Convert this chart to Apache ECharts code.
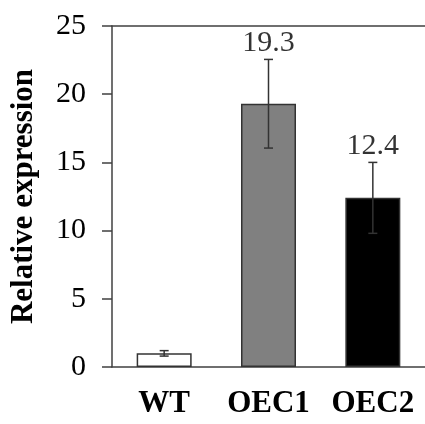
<!DOCTYPE html>
<html>
<head>
<meta charset="utf-8">
<script src="https://cdn.jsdelivr.net/npm/echarts@6/dist/echarts.min.js"></script>
<style>html,body{margin:0;padding:0;background:#fff;}#c{width:425px;height:424px;}</style>
</head>
<body>
<div id="c"></div>
<script>
var categories = ["WT", "OEC1", "OEC2"];
var means = [1.0, 19.3, 12.4];
var errors = [0.2, 3.25, 2.6];
var valueLabels = ["", "19.3", "12.4"];
var barColors = ["#ffffff", "#808080", "#000000"];
var yTicks = [0, 5, 10, 15, 20, 25];

var chart = echarts.init(document.getElementById('c'));
var serif = '"Liberation Serif","Times New Roman",serif';
var axisColor = '#404040';

var errData = means.map(function (m, i) { return [i, m, errors[i]]; });
var topData = means.map(function (m, i) { return [i, m + errors[i]]; });

chart.setOption({
  animation: false,
  grid: { left: 111, top: 26, bottom: 57, width: 322 },
  xAxis: [{
    type: 'category',
    data: categories,
    axisLine: { show: true, lineStyle: { color: axisColor, width: 1.5 } },
    axisTick: { show: false },
    axisLabel: { interval: 0, fontFamily: serif, fontWeight: 'bold', fontSize: 31, color: '#000', margin: 21 }
  }, {
    type: 'category',
    position: 'top',
    data: categories,
    axisLine: { show: true, lineStyle: { color: axisColor, width: 1.5 } },
    axisTick: { show: false },
    axisLabel: { show: false }
  }],
  yAxis: {
    type: 'value',
    min: yTicks[0],
    max: yTicks[yTicks.length - 1],
    interval: 5,
    name: 'Relative expression',
    nameLocation: 'middle',
    nameGap: 73,
    nameTextStyle: { fontFamily: serif, fontWeight: 'bold', fontSize: 31, color: '#000' },
    axisLine: { show: true, lineStyle: { color: axisColor, width: 1.5 } },
    axisTick: { show: true, length: 10, lineStyle: { color: axisColor, width: 1.5 } },
    axisLabel: { fontFamily: serif, fontSize: 30, color: '#000', margin: 26 },
    splitLine: { show: false }
  },
  series: [{
    type: 'bar',
    data: means.map(function (m, i) {
      return { value: m, itemStyle: { color: barColors[i] } };
    }),
    barWidth: 55,
    itemStyle: { borderColor: '#333', borderWidth: 1.5 }
  }, {
    type: 'custom',
    data: errData,
    z: 5,
    renderItem: function (params, api) {
      var i = api.value(0), m = api.value(1), e = api.value(2);
      var hi = api.coord([i, m + e]);
      var lo = api.coord([i, m - e]);
      var cw = 4.5;
      var st = { stroke: '#333', lineWidth: 1.5 };
      return {
        type: 'group',
        children: [
          { type: 'line', shape: { x1: hi[0], y1: hi[1], x2: lo[0], y2: lo[1] }, style: st },
          { type: 'line', shape: { x1: hi[0] - cw, y1: hi[1], x2: hi[0] + cw, y2: hi[1] }, style: st },
          { type: 'line', shape: { x1: lo[0] - cw, y1: lo[1], x2: lo[0] + cw, y2: lo[1] }, style: st }
        ]
      };
    }
  }, {
    type: 'scatter',
    data: topData,
    symbolSize: 0,
    label: {
      show: true,
      position: 'top',
      distance: 1,
      fontFamily: serif,
      fontSize: 30,
      color: '#000',
      formatter: function (p) { return valueLabels[p.dataIndex]; }
    }
  }]
});
</script>
</body>
</html>
